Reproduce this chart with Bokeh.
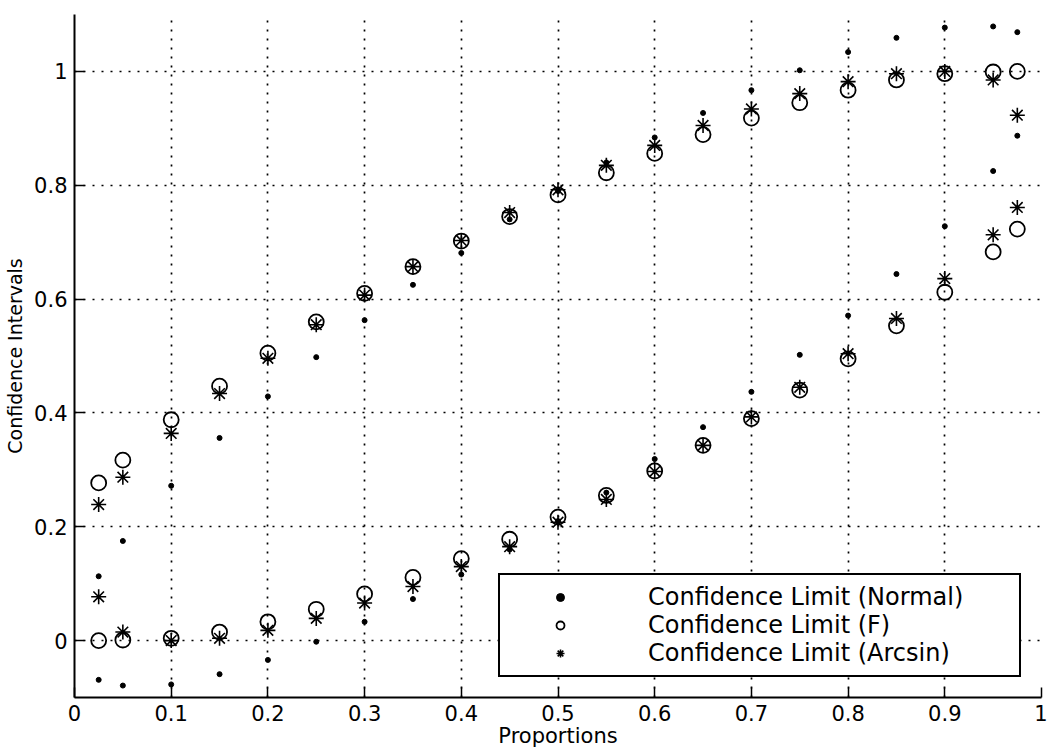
from bokeh.plotting import figure
from bokeh.models import ColumnDataSource, Legend, LegendItem, FixedTicker, Range1d
from bokeh.embed import file_html
from bokeh.resources import INLINE

# ---- data ----
proportions = [0.025, 0.05, 0.1, 0.15, 0.2, 0.25, 0.3, 0.35, 0.4, 0.45, 0.5,
               0.55, 0.6, 0.65, 0.7, 0.75, 0.8, 0.85, 0.9, 0.95, 0.975]

normal_lower = [-0.069, -0.079, -0.077, -0.059, -0.034, -0.002, 0.033, 0.073, 0.116, 0.160, 0.210,
                0.260, 0.319, 0.375, 0.437, 0.502, 0.571, 0.644, 0.728, 0.825, 0.887]
normal_upper = [0.113, 0.175, 0.272, 0.356, 0.429, 0.498, 0.563, 0.625, 0.681, 0.740, 0.790,
                0.840, 0.884, 0.927, 0.967, 1.002, 1.034, 1.059, 1.077, 1.079, 1.069]

f_lower = [0.000, 0.001, 0.004, 0.015, 0.033, 0.055, 0.082, 0.111, 0.144, 0.178, 0.217,
           0.255, 0.298, 0.343, 0.390, 0.440, 0.495, 0.553, 0.612, 0.683, 0.723]
f_upper = [0.277, 0.317, 0.388, 0.447, 0.505, 0.560, 0.610, 0.657, 0.702, 0.745, 0.783,
           0.822, 0.856, 0.889, 0.918, 0.945, 0.967, 0.985, 0.996, 0.999, 1.000]

arcsin_lower = [0.077, 0.015, 0.000, 0.004, 0.018, 0.039, 0.066, 0.095, 0.130, 0.165, 0.208,
                0.248, 0.297, 0.343, 0.393, 0.445, 0.504, 0.566, 0.636, 0.713, 0.761]
arcsin_upper = [0.239, 0.287, 0.364, 0.434, 0.496, 0.555, 0.607, 0.657, 0.703, 0.752, 0.792,
                0.835, 0.870, 0.905, 0.934, 0.961, 0.982, 0.996, 1.000, 0.985, 0.923]

x_ticks = [0, 0.1, 0.2, 0.3, 0.4, 0.5, 0.6, 0.7, 0.8, 0.9, 1.0]
x_tick_labels = ["0", "0.1", "0.2", "0.3", "0.4", "0.5", "0.6", "0.7", "0.8", "0.9", "1"]
y_ticks = [0, 0.2, 0.4, 0.6, 0.8, 1.0]
y_tick_labels = ["0", "0.2", "0.4", "0.6", "0.8", "1"]

legend_labels = ["Confidence Limit (Normal)", "Confidence Limit (F)", "Confidence Limit (Arcsin)"]

FONT = "DejaVu Sans"

p = figure(width=1047, height=751,
           x_range=Range1d(0, 1), y_range=Range1d(-0.1, 1.1),
           output_backend="svg", toolbar_location=None,
           min_border_left=74, min_border_right=6, min_border_top=14, min_border_bottom=54)
p.outline_line_color = None
p.background_fill_color = "white"
p.border_fill_color = "white"

src_n = ColumnDataSource(dict(x=proportions + proportions, y=normal_lower + normal_upper))
src_f = ColumnDataSource(dict(x=proportions + proportions, y=f_lower + f_upper))
src_a = ColumnDataSource(dict(x=proportions + proportions, y=arcsin_lower + arcsin_upper))

r_f = p.scatter("x", "y", source=src_f, marker="circle", size=15,
                fill_color=None, line_color="black", line_width=1.8)
r_a = p.scatter("x", "y", source=src_a, marker="asterisk", size=15,
                line_color="black", line_width=1.6)
r_n = p.scatter("x", "y", source=src_n, marker="circle", size=5,
                fill_color="black", line_color="black")

# axes
for ax in (p.xaxis[0], p.yaxis[0]):
    ax.axis_line_color = "black"
    ax.axis_line_width = 2
    ax.major_tick_line_color = "black"
    ax.major_tick_line_width = 1.5
    ax.major_tick_in = 10
    ax.major_tick_out = 0
    ax.minor_tick_line_color = None
    ax.major_label_text_font = FONT
    ax.major_label_text_font_size = "21px"
    ax.major_label_text_color = "black"
    ax.axis_label_text_font = FONT
    ax.axis_label_text_font_style = "normal"
    ax.axis_label_text_color = "black"

p.xaxis.ticker = FixedTicker(ticks=x_ticks)
p.xaxis.major_label_overrides = dict(zip(x_ticks, x_tick_labels))
p.yaxis.ticker = FixedTicker(ticks=y_ticks)
p.yaxis.major_label_overrides = dict(zip(y_ticks, y_tick_labels))

p.xaxis.axis_label = "Proportions"
p.xaxis.axis_label_text_font_size = "21px"
p.xaxis.major_label_standoff = 7
p.xaxis.axis_label_standoff = 0
p.yaxis.axis_label = "Confidence Intervals"
p.yaxis.axis_label_text_font_size = "19px"
p.yaxis.major_label_standoff = 7
p.yaxis.axis_label_standoff = 5

# dotted grid
for g in (p.xgrid[0], p.ygrid[0]):
    g.grid_line_color = "black"
    g.grid_line_width = 1.7
    g.grid_line_dash = "2 7"
    g.grid_line_alpha = 1.0
p.xgrid.ticker = FixedTicker(ticks=x_ticks)
p.ygrid.ticker = FixedTicker(ticks=y_ticks)

legend = Legend(items=[LegendItem(label=legend_labels[0], renderers=[r_n]),
                       LegendItem(label=legend_labels[1], renderers=[r_f]),
                       LegendItem(label=legend_labels[2], renderers=[r_a])],
                location="bottom_right")
legend.label_text_font = FONT
legend.label_text_font_size = "24px"
legend.label_text_color = "black"
legend.border_line_color = "black"
legend.border_line_alpha = 1.0
legend.border_line_width = 2
legend.background_fill_color = "white"
legend.background_fill_alpha = 1.0
legend.padding = 8
legend.spacing = 0
legend.margin = 20
legend.glyph_width = 104
legend.glyph_height = 20
legend.label_standoff = 36
legend.label_width = 363
legend.label_height = 20
p.add_layout(legend)

open("out.html", "w").write(file_html(p, INLINE))
